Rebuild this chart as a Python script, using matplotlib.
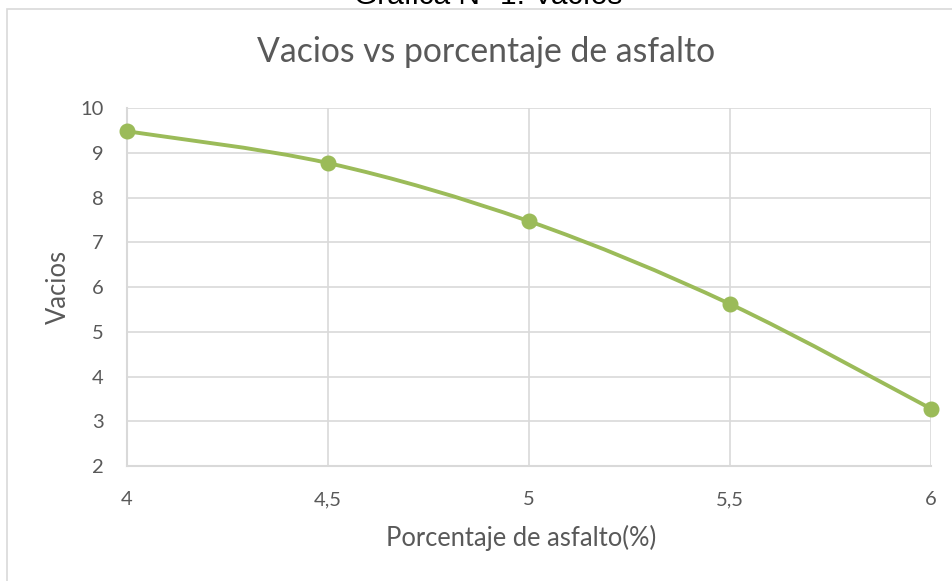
import numpy as np
import matplotlib.pyplot as plt
from matplotlib.path import Path
from matplotlib.patches import PathPatch, Rectangle

# Porcentaje de asfalto vs vacios
asfalto = [4, 4.5, 5, 5.5, 6]
vacios = [9.48, 8.77, 7.47, 5.62, 3.28]
x_ticks = [4, 4.5, 5, 5.5, 6]
x_labels = ["4", "4,5", "5", "5,5", "6"]
y_ticks = [2, 3, 4, 5, 6, 7, 8, 9, 10]

GREEN = "#9bbb59"
GRID = "#d9d9d9"
TEXT = "#595959"
FONT = "Lato"


def smooth_path(xs, ys):
    """Bezier path through the points, like a smoothed spreadsheet line."""
    pts = np.column_stack([xs, ys]).astype(float)
    ext = np.vstack([pts[0], pts, pts[-1]])
    verts = [tuple(pts[0])]
    codes = [Path.MOVETO]
    for i in range(len(pts) - 1):
        p0, p1, p2, p3 = ext[i], ext[i + 1], ext[i + 2], ext[i + 3]
        c1 = p1 + (p2 - p0) / 6.0
        c2 = p2 - (p3 - p1) / 6.0
        verts += [tuple(c1), tuple(c2), tuple(p2)]
        codes += [Path.CURVE4] * 3
    return Path(verts, codes)


fig = plt.figure(figsize=(9.53, 5.81), dpi=100)
ax = fig.add_axes([127 / 953, 1 - 466 / 581, (931 - 127) / 953, (466 - 108) / 581])

# outer chart frame
fig.patches.append(Rectangle((7 / 953, -0.1), 1.2, 1 - 9 / 581 + 0.1,
                             transform=fig.transFigure, fill=False,
                             edgecolor=GRID, linewidth=1.2))

# caption above the chart frame (cut by the top edge)
fig.text(488 / 953, 1 - 4 / 581, "Gráfica N° 1: Vacíos", ha="center", va="baseline",
         fontsize=21.5, color="black", family="Liberation Sans")

ax.add_patch(PathPatch(smooth_path(asfalto, vacios), fill=False,
                       edgecolor=GREEN, linewidth=2.8, capstyle="round", zorder=3))
ax.plot(asfalto, vacios, linestyle="none", marker="o", markersize=10.5,
        color=GREEN, zorder=4, clip_on=False)

ax.set_xlim(4, 6)
ax.set_ylim(2, 10)
ax.set_xticks(x_ticks)
ax.set_xticklabels(x_labels)
ax.set_yticks(y_ticks)
ax.grid(True, color=GRID, linewidth=1.2)
ax.set_axisbelow(True)
for side in ["top", "right"]:
    ax.spines[side].set_visible(False)
for side in ["left", "bottom"]:
    ax.spines[side].set_color(GRID)
    ax.spines[side].set_linewidth(1.5)
ax.tick_params(length=0, labelsize=14.5, labelcolor=TEXT)
ax.tick_params(axis="x", pad=18)
ax.tick_params(axis="y", pad=17)
for lbl in ax.get_xticklabels() + ax.get_yticklabels():
    lbl.set_family(FONT)

fig.text(486 / 953, 1 - 52 / 581, "Vacios vs porcentaje de asfalto", ha="center",
         va="center", fontsize=24.3, color=TEXT, family=FONT)
fig.text(521 / 953, 1 - 538 / 581, "Porcentaje de asfalto(%)", ha="center",
         va="center", fontsize=18.4, color=TEXT, family=FONT)
fig.text(58 / 953, 1 - 287 / 581, "Vacios", ha="center", va="center",
         rotation=90, fontsize=18.4, color=TEXT, family=FONT)

fig.savefig("out.png", dpi=100)
